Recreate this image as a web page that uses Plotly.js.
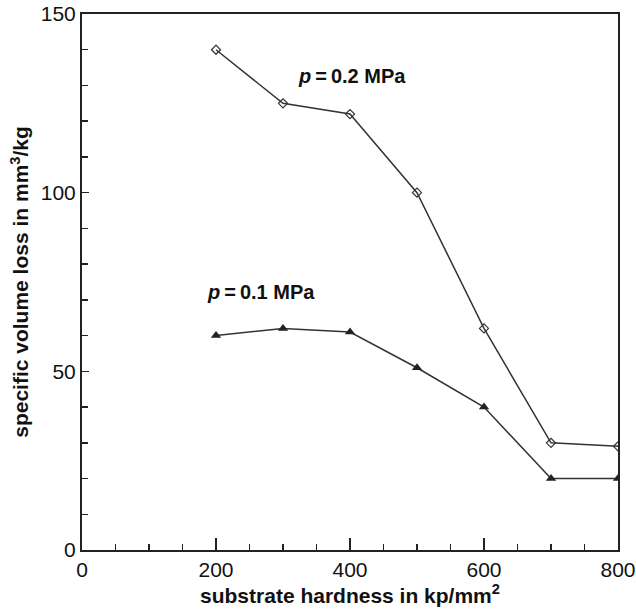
<!DOCTYPE html>
<html>
<head>
<meta charset="utf-8">
<script src="https://cdn.plot.ly/plotly-3.0.1.min.js"></script>
<style>html,body{margin:0;padding:0;background:#fff}#chart{width:636px;height:610px}</style>
</head>
<body>
<div id="chart"></div>
<script>
// Substrate hardness (kp/mm^2) and specific volume loss (mm^3/kg)
const hardness = [200, 300, 400, 500, 600, 700, 800];
const loss02 = [140, 125, 122, 100, 62, 30, 29];
const loss01 = [60, 62, 61, 51, 40, 20, 20];
const seriesNames = ['p = 0.2 MPa', 'p = 0.1 MPa'];

const lineColor = '#333333';
const font = 'Liberation Sans, Arial, Helvetica, sans-serif';

const traces = [
  {
    x: hardness, y: loss02, name: seriesNames[0], type: 'scatter', mode: 'lines+markers',
    line: {color: lineColor, width: 1.5},
    marker: {symbol: 'diamond-open', size: 7, color: lineColor, line: {width: 1.2, color: lineColor}}
  },
  {
    x: hardness, y: loss01, name: seriesNames[1], type: 'scatter', mode: 'lines+markers',
    line: {color: lineColor, width: 1.5},
    marker: {symbol: 'triangle-up', size: 9, color: '#222'}
  }
];

const axisBase = {
  showgrid: false, zeroline: false, showline: true, linecolor: '#222', linewidth: 2,
  mirror: true, ticks: 'inside', tickcolor: '#222', tickwidth: 1.5,
  tickfont: {family: font, size: 21, color: '#111'}
};

const layout = {
  width: 636, height: 610,
  margin: {l: 82, r: 18, t: 14, b: 60},
  paper_bgcolor: '#fff', plot_bgcolor: '#fff',
  showlegend: false,
  font: {family: font, color: '#111'},
  xaxis: Object.assign({}, axisBase, {
    range: [0, 800], dtick: 200, ticklen: 12,
    minor: {dtick: 50, ticks: 'inside', ticklen: 6, tickcolor: '#222', tickwidth: 1.5},
    title: {text: '<b>substrate hardness in kp/mm<sup>2</sup></b>', font: {family: font, size: 21, color: '#111'}, standoff: 2}
  }),
  yaxis: Object.assign({}, axisBase, {
    range: [0, 150], dtick: 50, ticklen: 7,
    minor: {dtick: 10, ticks: 'inside', ticklen: 6, tickcolor: '#222', tickwidth: 1.5},
    title: {text: '<b>specific volume loss in mm<sup>3</sup>/kg</b>', font: {family: font, size: 21, color: '#111'}, standoff: 6}
  }),
  annotations: [
    {x: 403, y: 132.7, xref: 'x', yref: 'y', showarrow: false,
     text: '<b><i>p</i>\u2009=\u20090.2 MPa</b>', font: {family: font, size: 20, color: '#111'}},
    {x: 267, y: 72.2, xref: 'x', yref: 'y', showarrow: false,
     text: '<b><i>p</i>\u2009=\u20090.1 MPa</b>', font: {family: font, size: 20, color: '#111'}}
  ]
};

Plotly.newPlot('chart', traces, layout, {displayModeBar: false, staticPlot: true});
</script>
</body>
</html>
